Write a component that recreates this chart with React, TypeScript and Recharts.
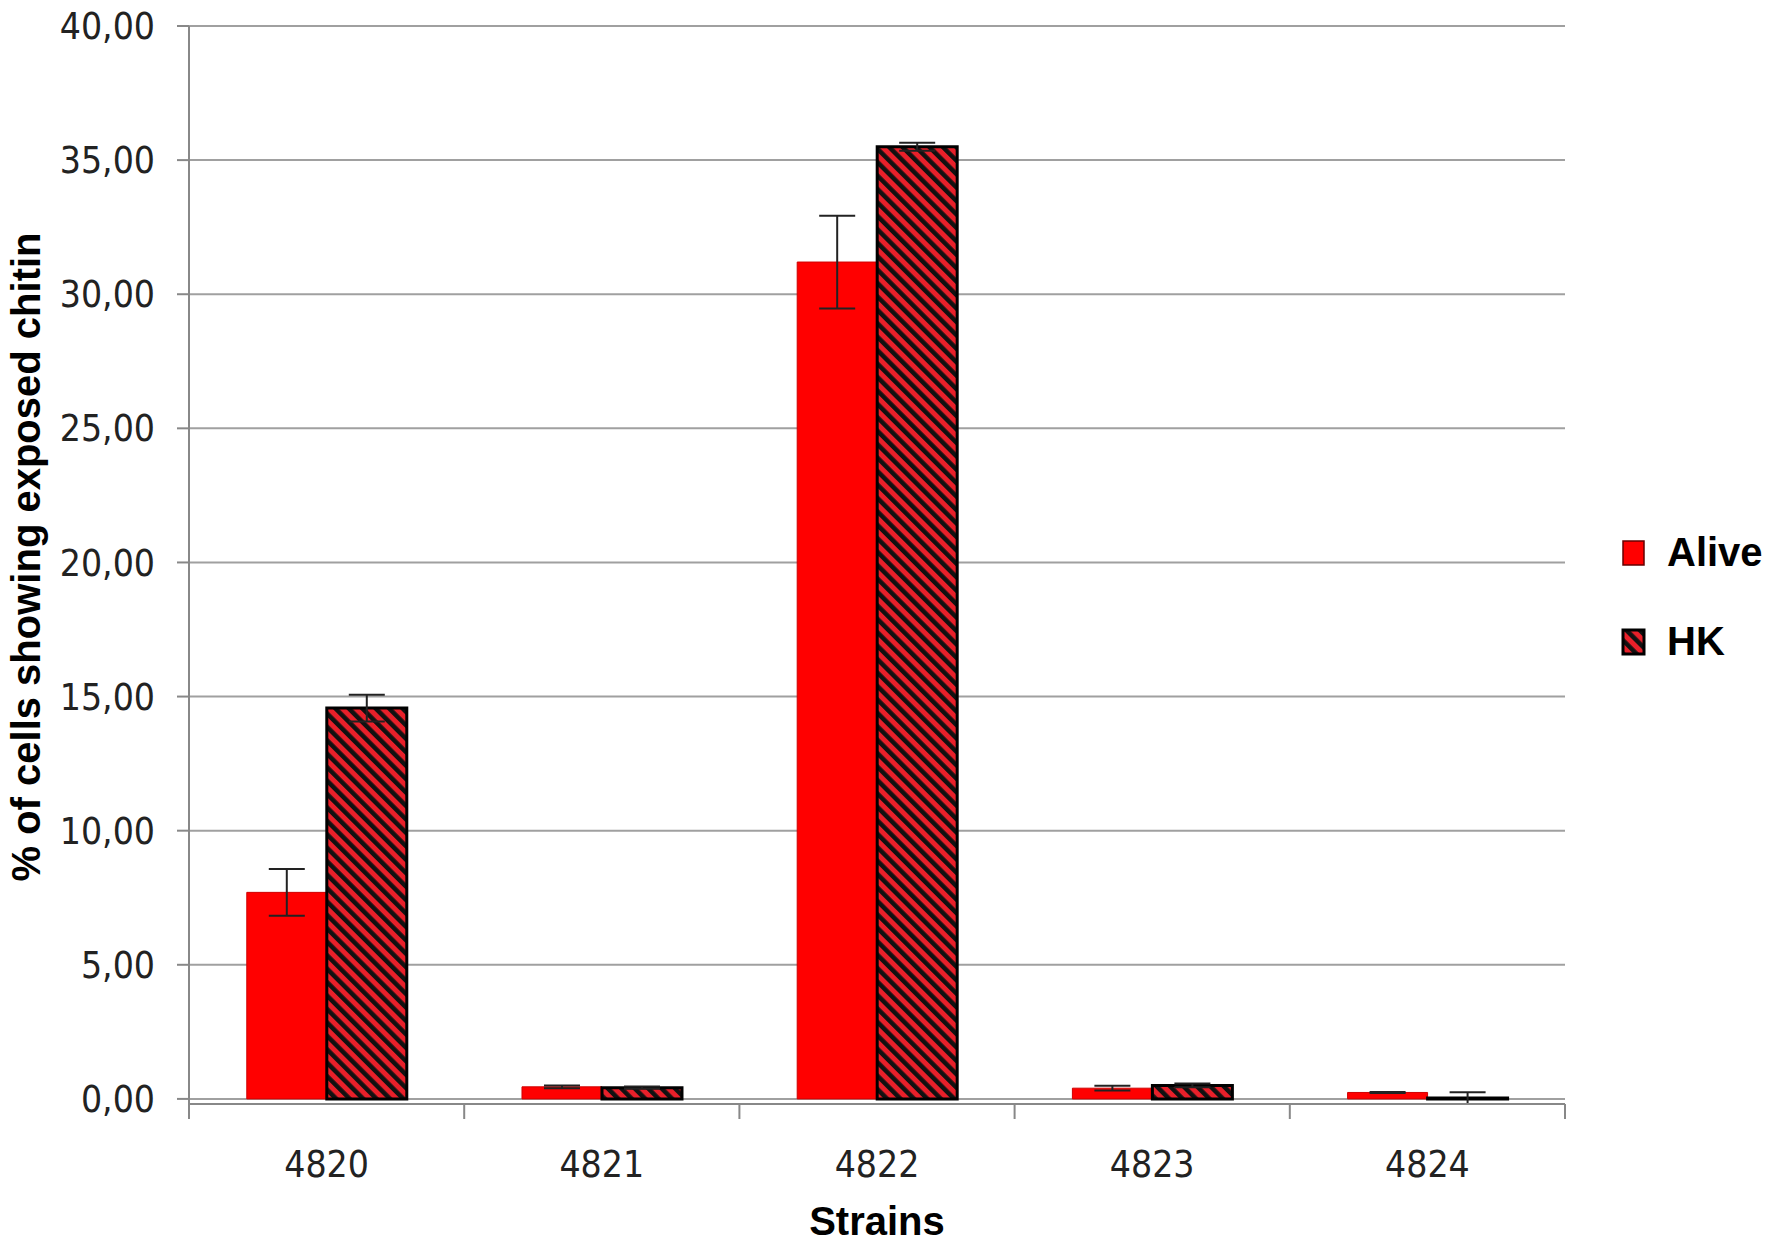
import { Bar, BarChart, CartesianGrid, ErrorBar, XAxis, YAxis } from "recharts"

const strains = ["4820", "4821", "4822", "4823", "4824"]
const alive = [7.7, 0.45, 31.2, 0.4, 0.24]
const aliveErr = [0.87, 0.05, 1.73, 0.09, 0.02]
const hk = [14.57, 0.42, 35.5, 0.5, 0.03]
const hkErr = [0.5, 0.04, 0.15, 0.07, 0.22]
const yTicks = [0, 5, 10, 15, 20, 25, 30, 35, 40]

const data = strains.map((name, i) => ({
  name,
  alive: alive[i],
  aliveErr: aliveErr[i],
  hk: hk[i],
  hkErr: hkErr[i],
}))

const W = 1772
const H = 1247
const PLOT_LEFT = 189
const PLOT_RIGHT = 1565
const band = (PLOT_RIGHT - PLOT_LEFT) / strains.length

const tickFont = "'Liberation Sans Narrow', 'DejaVu Sans Condensed', sans-serif"
const boldFont = "'Liberation Sans', Arial, sans-serif"

function StrainTick(props: any) {
  const { x, y, payload, index } = props
  const axisY = y - 12
  return (
    <g>
      <line x1={x - band / 2} x2={x - band / 2} y1={axisY} y2={axisY + 15} stroke="#888" strokeWidth={2} />
      {index === strains.length - 1 && (
        <line x1={x + band / 2} x2={x + band / 2} y1={axisY} y2={axisY + 15} stroke="#888" strokeWidth={2} />
      )}
      <text x={x} y={axisY + 73} textAnchor="middle" fontFamily={tickFont} fontSize={37} fill="#222">
        {payload.value}
      </text>
    </g>
  )
}

function LegendBox() {
  const items = [
    { label: "Alive", fill: "#ff0000", stroke: "#600", sw: 1.5 },
    { label: "HK", fill: "url(#hatch)", stroke: "#000", sw: 3 },
  ]
  return (
    <div style={{ position: "absolute", left: 1621, top: 508 }}>
      {items.map((it) => (
        <div key={it.label} style={{ display: "flex", alignItems: "center", height: 89 }}>
          <svg width={26} height={28}>
            <rect x={2} y={2} width={21} height={24} fill={it.fill} stroke={it.stroke} strokeWidth={it.sw} />
          </svg>
          <span style={{ marginLeft: 20, fontFamily: boldFont, fontWeight: 700, fontSize: 40, color: "#000" }}>
            {it.label}
          </span>
        </div>
      ))}
    </div>
  )
}

export default function App() {
  return (
    <div style={{ position: "absolute", left: 0, top: 0, width: W, height: H, background: "#fff" }}>
      <BarChart
        width={W}
        height={H}
        data={data}
        margin={{ top: 26, right: W - PLOT_RIGHT, left: 0, bottom: 20 }}
        barCategoryGap="21%"
        barGap={0}
      >
        <defs>
          <pattern id="hatch" patternUnits="userSpaceOnUse" width={9.5} height={9.5} patternTransform="rotate(-45)">
            <rect width={9.5} height={9.5} fill="#e8202a" />
            <rect width={4.5} height={9.5} fill="#111" />
          </pattern>
        </defs>
        <CartesianGrid vertical={false} stroke="#a0a0a0" strokeWidth={2} />
        <XAxis
          dataKey="name"
          height={123}
          tickLine={false}
          tickSize={12}
          tickMargin={0}
          axisLine={{ stroke: "#888", strokeWidth: 2 }}
          tick={<StrainTick />}
          interval={0}
          label={{
            value: "Strains",
            position: "insideBottom",
            offset: -8,
            fontFamily: boldFont,
            fontWeight: 700,
            fontSize: 40,
            fill: "#000",
          }}
        />
        <YAxis
          width={PLOT_LEFT}
          domain={[0, 40]}
          ticks={yTicks}
          tickSize={12}
          tickMargin={22}
          tickLine={{ stroke: "#888", strokeWidth: 2 }}
          axisLine={{ stroke: "#888", strokeWidth: 2 }}
          tick={{ fontFamily: tickFont, fontSize: 37, fill: "#222" }}
          tickFormatter={(v: number) => v.toFixed(2).replace(".", ",")}
          label={{
            content: ({ viewBox }: any) => (
              <text
                transform={`translate(${viewBox.x + 26}, ${viewBox.y + viewBox.height / 2 - 8}) rotate(-90)`}
                textAnchor="middle"
                dominantBaseline="central"
                fontFamily={boldFont}
                fontWeight={700}
                fontSize={40}
                fill="#000"
              >
                % of cells showing exposed chitin
              </text>
            ),
          }}
        />
        <Bar dataKey="alive" name="Alive" fill="#ff0000" stroke="#d00000" strokeWidth={1} isAnimationActive={false}>
          <ErrorBar dataKey="aliveErr" width={18} stroke="#222" strokeWidth={2} />
        </Bar>
        <Bar dataKey="hk" name="HK" fill="url(#hatch)" stroke="#000" strokeWidth={3} isAnimationActive={false}>
          <ErrorBar dataKey="hkErr" width={18} stroke="#222" strokeWidth={2} />
        </Bar>
      </BarChart>
      <LegendBox />
    </div>
  )
}
